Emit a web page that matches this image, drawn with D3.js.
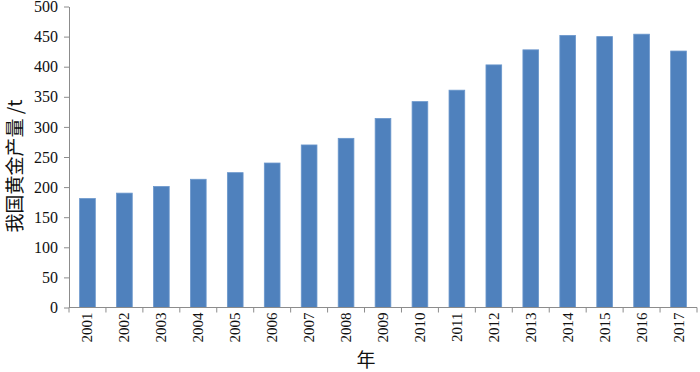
<!DOCTYPE html>
<html>
<head>
<meta charset="utf-8">
<script src="https://cdn.jsdelivr.net/npm/d3@7"></script>
<style>
  body { margin: 0; background: #fff; }
  svg { display: block; }
</style>
</head>
<body>
<svg id="chart"></svg>
<script>
const years = ['2001', '2002', '2003', '2004', '2005', '2006', '2007', '2008', '2009',
               '2010', '2011', '2012', '2013', '2014', '2015', '2016', '2017']
const output = [181, 190, 201, 213, 224, 240, 270, 281, 314, 342, 361, 403, 428, 452, 450, 454, 426]
const yTicks = [0, 50, 100, 150, 200, 250, 300, 350, 400, 450, 500]
const yTitle = '我国黄金产量 /t'
const xTitle = '年'

const width = 700
const height = 372
const margin = {top: 6.5, right: 3, bottom: 64.5, left: 69}
const axisColor = '#8c8c8c'
const barColor = '#4f81bd'
const serif = "'Liberation Serif', 'Times New Roman', Times, serif"
const cjk = "'Noto Sans CJK SC', sans-serif"

const svg = d3.select('#chart')
    .attr('width', width)
    .attr('height', height)
    .attr('viewBox', `0 0 ${width} ${height}`)

const rows = years.map((year, i) => ({year, value: output[i]}))

const x = d3.scaleBand()
    .domain(years)
    .range([margin.left, width - margin.right])

const y = d3.scaleLinear()
    .domain([0, 500])
    .range([height - margin.bottom, margin.top])

const barWidth = x.bandwidth() * 0.425

svg.append('g')
  .selectAll('rect')
  .data(rows)
  .join('rect')
    .attr('x', d => x(d.year) + (x.bandwidth() - barWidth) / 2)
    .attr('y', d => y(d.value))
    .attr('width', barWidth)
    .attr('height', d => y(0) - y(d.value))
    .attr('fill', barColor)
    .attr('stroke', '#6b97cc')
    .attr('stroke-width', 0.8)

// y axis
svg.append('g')
    .attr('transform', `translate(${margin.left},0)`)
    .call(d3.axisLeft(y).tickValues(yTicks).tickSize(5).tickSizeOuter(0).tickPadding(6))
    .call(g => g.attr('font-family', null).attr('font-size', null))
    .call(g => g.selectAll('.domain, line').attr('stroke', axisColor))
    .call(g => g.selectAll('text')
        .style('font-family', serif)
        .style('font-size', '16px')
        .attr('fill', '#111'))

// x axis: line, ticks at the band edges, rotated labels
const xg = svg.append('g')
    .attr('transform', `translate(0,${y(0)})`)

xg.append('line')
    .attr('x1', x.range()[0])
    .attr('x2', x.range()[1])
    .attr('stroke', axisColor)

const edges = years.map(d => x(d)).concat([x(years[years.length - 1]) + x.bandwidth()])

xg.selectAll('line.edge')
  .data(edges)
  .join('line')
    .attr('class', 'edge')
    .attr('x1', d => d)
    .attr('x2', d => d)
    .attr('y2', 5)
    .attr('stroke', axisColor)

xg.selectAll('text')
  .data(years)
  .join('text')
    .attr('transform', d => `translate(${x(d) + x.bandwidth() / 2 + 5},5) rotate(-90)`)
    .attr('text-anchor', 'end')
    .style('font-family', serif)
    .style('font-size', '15px')
    .attr('fill', '#111')
    .text(d => d)

svg.append('text')
    .attr('transform', `translate(22,166) rotate(-90)`)
    .attr('text-anchor', 'middle')
    .style('font-family', cjk)
    .style('font-size', '19px')
    .attr('fill', '#111')
    .text(yTitle)

svg.append('text')
    .attr('x', 366)
    .attr('y', 367)
    .attr('text-anchor', 'middle')
    .style('font-family', cjk)
    .style('font-size', '19px')
    .attr('fill', '#111')
    .text(xTitle)
</script>
</body>
</html>
